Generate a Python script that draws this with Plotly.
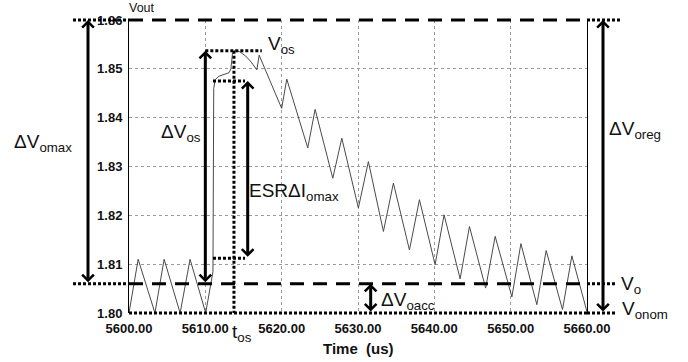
import plotly.graph_objects as go

# ---------------- data ----------------
t_us = [5600.0, 5601.2, 5603.4, 5604.6, 5606.7, 5608.0, 5610.05, 5611.0, 5611.1, 5611.3,
        5611.8, 5613.1, 5613.35, 5613.55, 5613.8, 5614.5, 5615.3, 5616.0, 5616.75, 5617.05,
        5620.0, 5620.67, 5623.42, 5624.38, 5626.70, 5627.88, 5630.05, 5631.36, 5633.33, 5634.64,
        5636.74, 5638.05, 5640.10, 5641.28, 5643.38, 5644.60, 5646.72, 5647.97, 5650.16, 5651.34,
        5653.43, 5654.65, 5656.79, 5658.02, 5659.99]
v_out = [1.8000, 1.8110, 1.8000, 1.8110, 1.8000, 1.8110, 1.8000, 1.8085, 1.8460, 1.8478,
         1.8485, 1.8492, 1.8500, 1.8530, 1.8537, 1.8535, 1.8526, 1.8514, 1.8498, 1.8528,
         1.8419, 1.8479, 1.8338, 1.8417, 1.8276, 1.8358, 1.8215, 1.8310, 1.8167, 1.8266,
         1.8129, 1.8232, 1.8099, 1.8201, 1.8070, 1.8177, 1.8051, 1.8157, 1.8033, 1.8142,
         1.8017, 1.8128, 1.8007, 1.8117, 1.8003]

x_ticks = [5600, 5610, 5620, 5630, 5640, 5650, 5660]
y_ticks = [1.80, 1.81, 1.82, 1.83, 1.84, 1.85, 1.86]

V_MAX = 1.86        # upper regulation limit
V_O = 1.806         # average output voltage
V_NOM = 1.80        # nominal output voltage
V_OS = 1.8537       # overshoot peak
T_OS = 5613.75      # overshoot time
ESR_TOP = 1.8475    # top of ESR step
ESR_BOT = 1.8112    # bottom of ESR step
T_STEP = 5610.0     # load step time
T_ESR_L = 5611.0
T_ESR_R = 5615.2
T_ESR_ARROW = 5615.55
T_VOS_R = 5617.4
T_ACC_ARROW = 5631.66

# ---------------- layout geometry ----------------
W, H = 688, 362
ML, MR, MT, MB = 129, 101, 20, 49
PW, PH = W - ML - MR, H - MT - MB
X0, X1 = x_ticks[0], x_ticks[-1]
Y0, Y1 = y_ticks[0], y_ticks[-1]


def xpx(px):  # pixel -> paper x
    return (px - ML) / PW


def ypx(py):  # pixel -> paper y
    return (H - MB - py) / PH


def yv(v):  # data y -> paper y
    return (v - Y0) / (Y1 - Y0)


FONT = "Liberation Sans, Arial, sans-serif"

fig = go.Figure()
fig.add_trace(go.Scatter(x=t_us, y=v_out, mode="lines",
                         line=dict(color="#4a4a4a", width=1), hoverinfo="skip",
                         showlegend=False))

shapes = []


def hline(x0p, x1p, v, dash, width=3):
    shapes.append(dict(type="line", xref="paper", yref="paper", x0=x0p, x1=x1p,
                       y0=yv(v), y1=yv(v), line=dict(color="black", width=width, dash=dash)))


DASH = "14px,9px"
DOT = "3px,2px"
# top limit
hline(0, 1, V_MAX, DASH)
hline(xpx(73), 0, V_MAX, DOT)
hline(1, xpx(620), V_MAX, DOT)
# Vo
hline(0, 1, V_O, DASH)
hline(xpx(73), 0, V_O, DOT)
hline(1, xpx(617), V_O, DOT)
# Vonom
hline(0, 1, V_NOM, DOT)
hline(1, xpx(617), V_NOM, DOT)

# inner dotted construction lines (data coords)
def dline(x0, y0, x1, y1):
    shapes.append(dict(type="line", xref="x", yref="y", x0=x0, y0=y0, x1=x1, y1=y1,
                       line=dict(color="black", width=3, dash=DOT)))


dline(T_STEP, V_OS, T_VOS_R, V_OS)
dline(T_OS, V_OS, T_OS, V_NOM)
dline(T_ESR_L, ESR_TOP, T_ESR_R, ESR_TOP)
dline(T_ESR_L, ESR_BOT, T_ESR_R, ESR_BOT)

annotations = []


def varrow(x, head, tail, xref="x"):
    annotations.append(dict(x=x, y=head, xref=xref, yref="y", ax=0, ay=tail,
                            axref="pixel", ayref="y", text="", showarrow=True,
                            arrowhead=4, arrowsize=0.75, arrowwidth=3, arrowcolor="black",
                            startarrowhead=4, startarrowsize=0.75, arrowside="end+start",
                            standoff=0, startstandoff=0))


varrow(xpx(88), V_MAX, V_O, xref="paper")
varrow(T_STEP, V_OS, V_O)
varrow(T_ESR_ARROW, ESR_TOP, ESR_BOT)
varrow(T_ACC_ARROW, V_O, V_NOM)
varrow(xpx(603), V_MAX, V_NOM, xref="paper")


def label(text, px, py, size=19, bold=False):
    annotations.append(dict(x=xpx(px), y=ypx(py), xref="paper", yref="paper",
                            text=text, showarrow=False, xanchor="left", yanchor="middle",
                            font=dict(family=FONT, size=size, color="#111",
                                      weight="bold" if bold else "normal")))


label("Vout", 127, 8, size=12.5)
label("ΔV<sub>omax</sub>", 11.5, 142.6)
label("ΔV<sub>os</sub>", 158.5, 132.6)
label("V<sub>os</sub>", 265.5, 44.6)
label("ESRΔI<sub>omax</sub>", 246.5, 191.6)
label("ΔV<sub>oreg</sub>", 606.5, 130)
label("V<sub>o</sub>", 618.5, 285)
label("V<sub>onom</sub>", 620, 310)
label("ΔV<sub>oacc</sub>", 378.5, 301)
label("t<sub>os</sub>", 229.5, 333.3)

annotations.append(dict(x=xpx(358), y=ypx(348), xref="paper", yref="paper",
                        text="Time\u00a0 (us)", showarrow=False, xanchor="center",
                        yanchor="middle",
                        font=dict(family=FONT, size=15, color="#111", weight="bold")))

fig.update_layout(
    width=W, height=H, margin=dict(l=ML, r=MR, t=MT, b=MB, pad=0),
    paper_bgcolor="white", plot_bgcolor="white",
    shapes=shapes, annotations=annotations, showlegend=False,
    xaxis=dict(range=[X0, X1], tickvals=x_ticks, tickformat=".2f", ticks="",
               showgrid=True, gridcolor="#9a9a9a", gridwidth=1, griddash="dot",
               showline=False, zeroline=False, ticklabelstandoff=6,
               tickfont=dict(family=FONT, size=13, color="#111", weight="bold")),
    yaxis=dict(range=[Y0, Y1], tickvals=y_ticks, tickformat=".2f", ticks="",
               showgrid=True, gridcolor="#9a9a9a", gridwidth=1, griddash="dot",
               showline=True, mirror=True, linecolor="black", linewidth=1,
               zeroline=False, ticklabelstandoff=3,
               tickfont=dict(family=FONT, size=13, color="#111", weight="bold")),
)

fig.write_html("out.html")
